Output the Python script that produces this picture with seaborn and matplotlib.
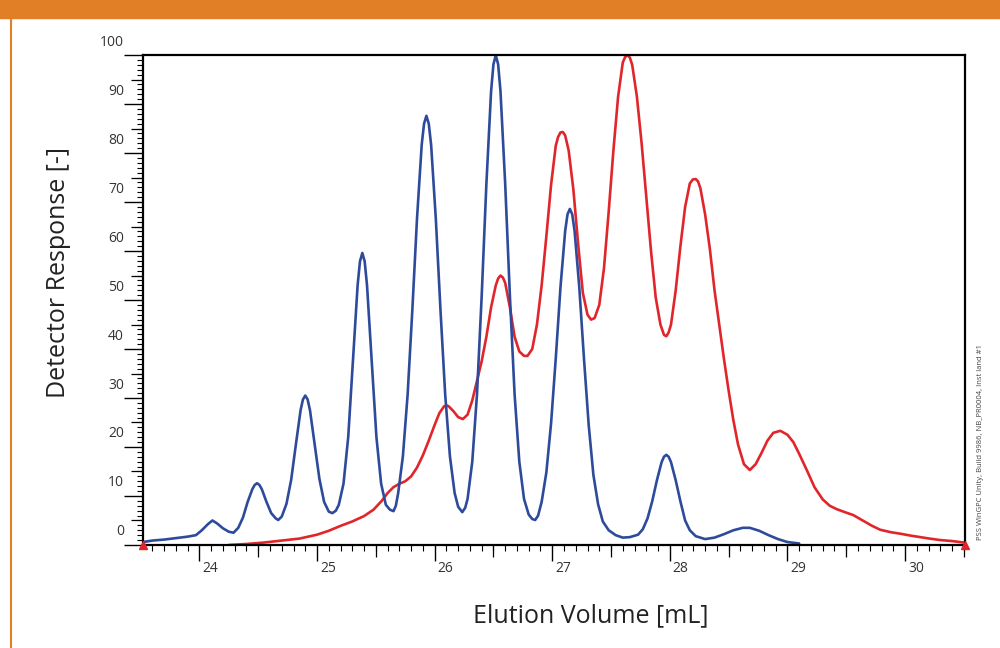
import numpy as np
import matplotlib
matplotlib.use('Agg')
import matplotlib.pyplot as plt
import matplotlib.transforms as mtransforms
from matplotlib.lines import Line2D
from matplotlib.patches import Rectangle
from matplotlib.ticker import MultipleLocator, NullLocator
import seaborn as sns

# --- Data ---
blue_volume = [23.52, 23.60, 23.70, 23.80, 23.90, 23.97, 24.02, 24.07, 24.11, 24.15,
               24.20, 24.25, 24.29, 24.33, 24.37, 24.41, 24.45, 24.47, 24.49, 24.51,
               24.53, 24.57, 24.61, 24.65, 24.67, 24.70, 24.74, 24.78, 24.82, 24.86,
               24.88, 24.90, 24.92, 24.94, 24.98, 25.02, 25.06, 25.10, 25.13, 25.16,
               25.185, 25.225, 25.265, 25.305, 25.345, 25.365, 25.385, 25.405, 25.425, 25.465,
               25.505, 25.545, 25.585, 25.62, 25.65, 25.67, 25.69, 25.73, 25.77, 25.81,
               25.85, 25.89, 25.91, 25.93, 25.95, 25.97, 26.01, 26.05, 26.09, 26.13,
               26.17, 26.20, 26.235, 26.26, 26.28, 26.32, 26.36, 26.40, 26.44, 26.48,
               26.50, 26.52, 26.54, 26.56, 26.60, 26.64, 26.68, 26.72, 26.76, 26.80,
               26.83, 26.855, 26.88, 26.91, 26.95, 26.99, 27.03, 27.07, 27.11, 27.13,
               27.15, 27.17, 27.19, 27.23, 27.27, 27.31, 27.35, 27.39, 27.43, 27.48,
               27.54, 27.60, 27.66, 27.73, 27.77, 27.81, 27.85, 27.89, 27.93, 27.95,
               27.97, 27.99, 28.01, 28.05, 28.09, 28.13, 28.17, 28.22, 28.30, 28.38,
               28.46, 28.54, 28.62, 28.68, 28.76, 28.84, 28.92, 29.00, 29.10]
blue_response = [0.6, 0.9, 1.1, 1.4, 1.7, 2.0, 3.0, 4.2, 5.0, 4.4,
                 3.4, 2.7, 2.5, 3.5, 5.6, 8.8, 11.4, 12.25, 12.6, 12.25,
                 11.4, 8.8, 6.5, 5.4, 5.1, 5.8, 8.4, 13.3, 20.5, 27.5,
                 29.7, 30.5, 29.7, 27.5, 20.5, 13.5, 8.8, 6.8, 6.5, 7.0,
                 8.2, 12.5, 22.0, 37.5, 53.0, 57.9, 59.6, 57.9, 53.0, 37.5,
                 22.0, 12.5, 8.2, 7.2, 6.9, 8.0, 10.6, 18.1, 30.6, 47.8,
                 66.6, 81.7, 86.0, 87.6, 86.0, 81.7, 66.6, 47.8, 30.6, 18.1,
                 10.6, 7.8, 6.7, 7.6, 9.4, 17.0, 30.7, 50.8, 73.7, 92.6,
                 98.1, 100.0, 98.1, 92.6, 73.7, 50.8, 30.7, 17.0, 9.4, 6.2,
                 5.3, 5.1, 6.0, 8.8, 14.8, 24.8, 38.1, 52.6, 64.1, 67.5,
                 68.6, 67.5, 64.1, 52.6, 38.0, 24.5, 14.3, 8.3, 4.8, 3.0,
                 2.0, 1.5, 1.6, 2.1, 3.2, 5.4, 8.9, 13.2, 16.9, 18.0,
                 18.4, 18.0, 16.9, 13.2, 8.9, 5.0, 3.0, 1.8, 1.2, 1.5,
                 2.2, 3.0, 3.5, 3.5, 2.9, 2.0, 1.2, 0.6, 0.3]

red_volume = [24.25, 24.40, 24.55, 24.70, 24.85, 25.00, 25.10, 25.20, 25.30, 25.40,
              25.48, 25.55, 25.60, 25.65, 25.70, 25.75, 25.80, 25.85, 25.90, 25.95,
              26.00, 26.04, 26.08, 26.10, 26.12, 26.16, 26.20, 26.24, 26.28, 26.32,
              26.36, 26.40, 26.44, 26.48, 26.52, 26.54, 26.56, 26.58, 26.60, 26.64,
              26.68, 26.72, 26.76, 26.79, 26.83, 26.87, 26.91, 26.95, 26.99, 27.03,
              27.05, 27.07, 27.09, 27.11, 27.14, 27.18, 27.22, 27.26, 27.30, 27.33,
              27.36, 27.40, 27.44, 27.48, 27.52, 27.56, 27.60, 27.62, 27.64, 27.66,
              27.68, 27.72, 27.76, 27.80, 27.84, 27.88, 27.92, 27.95, 27.97, 27.99,
              28.01, 28.05, 28.09, 28.13, 28.17, 28.195, 28.22, 28.24, 28.26, 28.30,
              28.34, 28.38, 28.42, 28.46, 28.50, 28.54, 28.58, 28.63, 28.68, 28.73,
              28.78, 28.83, 28.88, 28.94, 29.00, 29.05, 29.10, 29.17, 29.23, 29.30,
              29.36, 29.42, 29.50, 29.56, 29.64, 29.72, 29.79, 29.88, 29.96, 30.05,
              30.13, 30.21, 30.30, 30.40, 30.50]
red_response = [0.0, 0.2, 0.5, 0.9, 1.3, 2.1, 2.9, 3.9, 4.8, 5.9,
                7.2, 9.0, 10.6, 11.8, 12.5, 13.0, 14.0, 15.8, 18.3, 21.3,
                24.5, 26.9, 28.3, 28.5, 28.3, 27.3, 26.1, 25.7, 26.6, 29.5,
                33.5, 37.5, 42.5, 48.5, 53.0, 54.4, 55.0, 54.6, 53.5, 48.5,
                42.5, 39.5, 38.6, 38.6, 40.0, 45.0, 53.0, 63.0, 73.5, 81.5,
                83.3, 84.2, 84.3, 83.6, 80.5, 72.5, 61.5, 51.5, 47.0, 46.0,
                46.3, 49.0, 56.5, 68.0, 80.5, 91.5, 98.5, 99.6, 100.0, 99.5,
                98.0, 91.5, 82.0, 71.0, 60.0, 50.5, 45.0, 42.9, 42.6, 43.4,
                45.0, 52.0, 61.0, 69.0, 73.8, 74.6, 74.7, 74.2, 72.8, 67.5,
                60.5, 52.0, 45.0, 38.0, 31.5, 25.5, 20.5, 16.5, 15.3, 16.5,
                18.8, 21.3, 22.9, 23.3, 22.5, 21.0, 18.6, 15.0, 11.8, 9.3,
                8.0, 7.3, 6.6, 6.1, 5.0, 3.9, 3.1, 2.6, 2.3, 1.9,
                1.6, 1.3, 1.0, 0.8, 0.5]

# integration limits (red triangles) = ends of the volume axis
trace_limits = [23.52, 30.51]
x_ticks = [24, 25, 26, 27, 28, 29, 30]
y_ticks = [0, 10, 20, 30, 40, 50, 60, 70, 80, 90, 100]

BLUE = '#2E4B9B'
RED = '#E0262B'
ORANGE = '#E07F26'

sns.set_theme(style='white')
plt.rcParams['font.family'] = ['Open Sans', 'DejaVu Sans']

fig = plt.figure(figsize=(10, 6.48), dpi=100)
ax = fig.add_axes([0.143, 0.159, 0.822, 0.756])

sns.lineplot(x=red_volume, y=red_response, ax=ax, color=RED, linewidth=1.9,
             solid_joinstyle='round')
sns.lineplot(x=blue_volume, y=blue_response, ax=ax, color=BLUE, linewidth=1.9,
             solid_joinstyle='round')
ax.plot(trace_limits, [0, 0], linestyle='none', marker='^', color=RED,
        markersize=6, clip_on=False, zorder=6)

ax.set_xlim(trace_limits)
ax.set_ylim(0, 100)

for side in ax.spines:
    ax.spines[side].set_visible(True)
    ax.spines[side].set_color('black')
    ax.spines[side].set_linewidth(1.6)

# ticks: major, minor and a "half" set via secondary axes
ax.set_xticks(x_ticks)
ax.set_xticklabels([str(t) for t in x_ticks])
ax.set_yticks(y_ticks)
ax.set_yticklabels([str(t) for t in y_ticks])
ax.xaxis.set_minor_locator(MultipleLocator(0.1))
ax.yaxis.set_minor_locator(MultipleLocator(1))
ax.tick_params(which='both', bottom=True, left=True, direction='out',
               color='black', labelcolor='#333333')
ax.tick_params(axis='x', which='major', length=11.5, width=1.0, pad=0, labelsize=10)
ax.tick_params(axis='y', which='major', length=13.7, width=1.0, pad=0, labelsize=10)
ax.tick_params(which='minor', length=4.3, width=0.8)

secx = ax.secondary_xaxis('bottom')
secx.set_xticks(np.arange(24.5, 30.6, 1.0))
secx.xaxis.set_minor_locator(NullLocator())
secx.tick_params(length=8.6, width=0.9, direction='out', labelbottom=False, color='black')
secx.spines['bottom'].set_visible(False)

secy = ax.secondary_yaxis('left')
secy.set_yticks(np.arange(5, 100, 10))
secy.yaxis.set_minor_locator(NullLocator())
secy.tick_params(length=8.6, width=0.9, direction='out', labelleft=False, color='black')
secy.spines['left'].set_visible(False)

ax.set_xlabel('Elution Volume [mL]', fontsize=18, color='#222222')
ax.set_ylabel('Detector Response [-]', fontsize=18, color='#222222')
ax.xaxis.set_label_coords(0.545, -0.118)
ax.yaxis.set_label_coords(-0.087, 0.557)

# instrument stamp on the right
fig.text(0.981, 1 - 540 / 648, 'PSS WinGPC Unity, Build 9986, NB_PR0004, Inst land #1',
         rotation=90, fontsize=5.5, color='#444444', ha='center', va='bottom')

# orange frame of the figure panel
fig.add_artist(Rectangle((0, 1 - 18 / 648), 1, 18 / 648, transform=fig.transFigure,
                         color=ORANGE, zorder=0))
fig.add_artist(Line2D([0.011, 0.011], [0, 1 - 18 / 648], transform=fig.transFigure,
                      color=ORANGE, linewidth=1.5))

# labels sit above their tick on y, to the right of it on x
up = mtransforms.ScaledTranslation(0, 15 / 100, fig.dpi_scale_trans)
for lab in ax.get_yticklabels():
    lab.set_transform(lab.get_transform() + up)
right = mtransforms.ScaledTranslation(3 / 100, 0, fig.dpi_scale_trans)
for lab in ax.get_xticklabels():
    lab.set_horizontalalignment('left')
    lab.set_transform(lab.get_transform() + right)

fig.savefig('out.png', dpi=100)
